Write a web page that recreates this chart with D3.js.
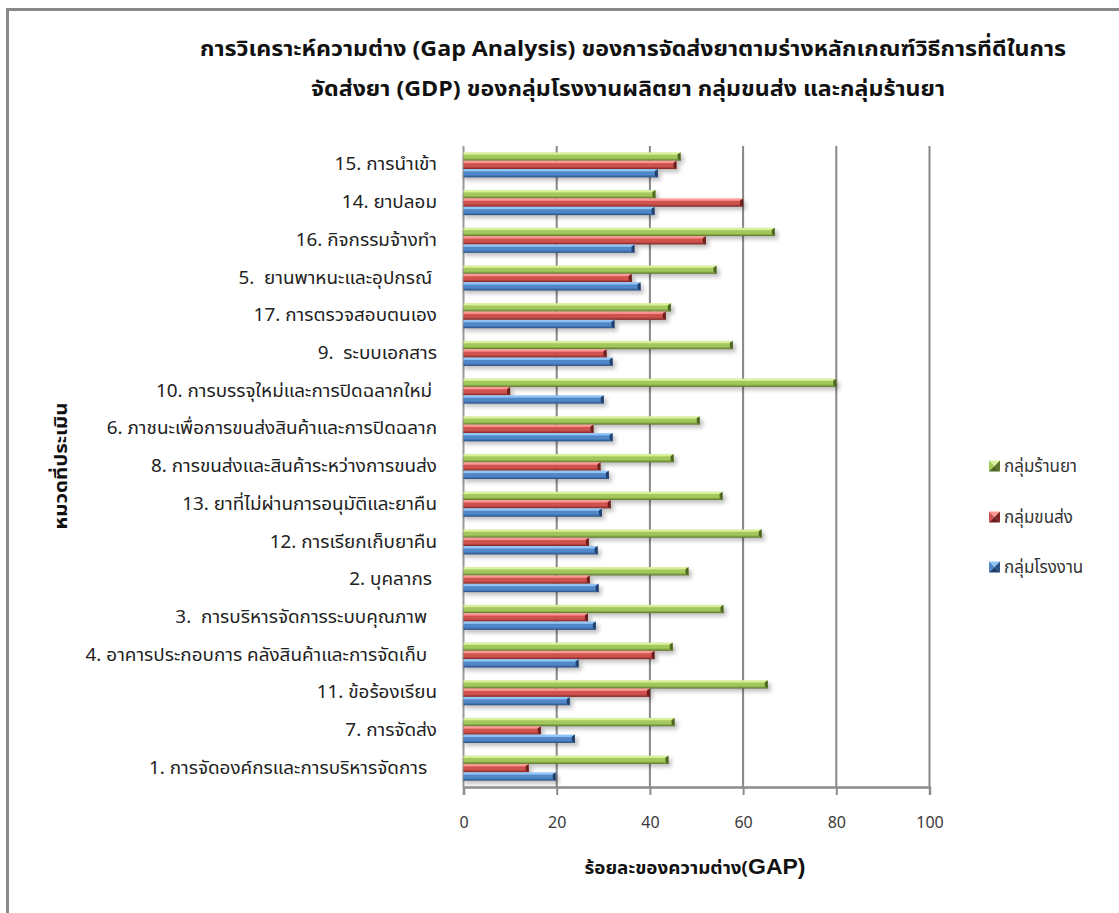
<!DOCTYPE html>
<html>
<head>
<meta charset="utf-8">
<script src="https://cdn.jsdelivr.net/npm/d3@7"></script>
<style>
  html, body { margin: 0; padding: 0; background: #fff; }
  svg { display: block; }
  text { white-space: pre; }
</style>
</head>
<body>
<svg id="chart" width="1119" height="913"></svg>
<script>
// Assessment categories, listed from top to bottom of the chart
const categories = [
  "15. การนำเข้า",
  "14. ยาปลอม",
  "16. กิจกรรมจ้างทำ",
  "5.  ยานพาหนะและอุปกรณ์ ",
  "17. การตรวจสอบตนเอง",
  "9.  ระบบเอกสาร",
  "10. การบรรจุใหม่และการปิดฉลากใหม่ ",
  "6. ภาชนะเพื่อการขนส่งสินค้าและการปิดฉลาก",
  "8. การขนส่งและสินค้าระหว่างการขนส่ง",
  "13. ยาที่ไม่ผ่านการอนุมัติและยาคืน",
  "12. การเรียกเก็บยาคืน",
  "2. บุคลากร ",
  "3.  การบริหารจัดการระบบคุณภาพ  ",
  "4. อาคารประกอบการ คลังสินค้าและการจัดเก็บ  ",
  "11. ข้อร้องเรียน",
  "7. การจัดส่ง",
  "1. การจัดองค์กรและการบริหารจัดการ  "
];

// Gap percentages per group
const pharmacyGap  = [46.6, 41.2, 66.8, 54.3, 44.5, 57.8, 80.0, 50.7, 45.1, 55.6, 64.0, 48.3, 55.8, 44.9, 65.3, 45.3, 44.0];
const transportGap = [45.7, 60.0, 52.0, 36.1, 43.4, 30.7, 10.0, 27.9, 29.4, 31.6, 26.9, 27.1, 26.7, 41.0, 40.0, 16.6, 14.0];
const factoryGap   = [41.7, 41.0, 36.7, 38.0, 32.4, 32.0, 30.1, 32.0, 31.2, 29.7, 28.8, 29.0, 28.4, 24.7, 22.8, 23.9, 19.8];

const seriesNames = ["กลุ่มร้านยา", "กลุ่มขนส่ง", "กลุ่มโรงงาน"];
const xTicks = [0, 20, 40, 60, 80, 100];

const titleLines = [
  "การวิเคราะห์ความต่าง (Gap Analysis) ของการจัดส่งยาตามร่างหลักเกณฑ์วิธีการที่ดีในการ",
  "จัดส่งยา (GDP) ของกลุ่มโรงงานผลิตยา กลุ่มขนส่ง และกลุ่มร้านยา"
];
const xTitleThai = "ร้อยละของความต่าง(";
const xTitleLatin = "GAP)";
const yTitle = "หมวดที่ประเมิน";

const series = [
  { name: seriesNames[0], values: pharmacyGap,  base: "#a2c75a", light: "#d9f09a", dark: "#5c752a", edge: "#4e6522" },
  { name: seriesNames[1], values: transportGap, base: "#cf524e", light: "#fb9893", dark: "#7e2523", edge: "#6a1e1c" },
  { name: seriesNames[2], values: factoryGap,   base: "#4f87c8", light: "#92c4f6", dark: "#2a4f82", edge: "#213f6b" }
];

const FONT = "'Noto Sans Thai', 'Noto Sans', 'DejaVu Sans', sans-serif";
const svg = d3.select("#chart");

// Outer chart frame (extends past right and bottom edges)
svg.append("rect")
  .attr("x", 7.5).attr("y", 9.5)
  .attr("width", 1140).attr("height", 940)
  .attr("fill", "#fff")
  .attr("stroke", "#8a8a8a").attr("stroke-width", 3);

// Defs: gradients and shadow
const defs = svg.append("defs");
series.forEach((s, i) => {
  const g = defs.append("linearGradient")
    .attr("id", "bar-grad-" + i)
    .attr("x1", 0).attr("y1", 0).attr("x2", 0).attr("y2", 1);
  g.append("stop").attr("offset", "0%").attr("stop-color", s.light);
  g.append("stop").attr("offset", "22%").attr("stop-color", s.light);
  g.append("stop").attr("offset", "35%").attr("stop-color", s.base);
  g.append("stop").attr("offset", "68%").attr("stop-color", s.base);
  g.append("stop").attr("offset", "100%").attr("stop-color", s.dark);
});
const blur = defs.append("filter").attr("id", "soft-shadow")
  .attr("x", "-10%").attr("y", "-50%").attr("width", "130%").attr("height", "250%");
blur.append("feGaussianBlur").attr("stdDeviation", 2.2);

// Scales
const x = d3.scaleLinear().domain([0, 100]).range([463.5, 929.5]);
const y = d3.scaleBand().domain(categories).range([146, 787])
  .paddingInner(0.335).paddingOuter(0.168);
const ySub = d3.scaleBand().domain(d3.range(series.length)).range([0, y.bandwidth()]);

// Gridlines
svg.append("g").selectAll("line")
  .data(xTicks.filter(t => t > 0))
  .join("line")
  .attr("x1", d => x(d)).attr("x2", d => x(d))
  .attr("y1", 146).attr("y2", 787)
  .attr("stroke", "#878787").attr("stroke-width", 2);

// Left axis line
svg.append("line")
  .attr("x1", x(0)).attr("x2", x(0))
  .attr("y1", 146).attr("y2", 787)
  .attr("stroke", "#9a9a9a").attr("stroke-width", 2);

// Bars
const bars = svg.append("g");
series.forEach((s, si) => {
  const g = bars.append("g");
  const rows = categories.map((c, ci) => ({ c, v: s.values[ci] }));
  const h = ySub.bandwidth();
  // soft shadow
  g.selectAll("rect.shadow").data(rows).join("rect")
    .attr("class", "shadow")
    .attr("x", x(0) + 1)
    .attr("y", d => y(d.c) + ySub(si) + 3)
    .attr("width", d => x(d.v) - x(0) + 2)
    .attr("height", h)
    .attr("fill", "#000").attr("opacity", 0.25)
    .attr("filter", "url(#soft-shadow)");
  // body
  g.selectAll("rect.body").data(rows).join("rect")
    .attr("class", "body")
    .attr("x", x(0))
    .attr("y", d => y(d.c) + ySub(si))
    .attr("width", d => x(d.v) - x(0))
    .attr("height", h)
    .attr("fill", `url(#bar-grad-${si})`);
  // bevelled end cap
  g.selectAll("path.cap").data(rows).join("path")
    .attr("class", "cap")
    .attr("d", d => {
      const x1 = x(d.v), y0 = y(d.c) + ySub(si);
      return `M${x1 - 3},${y0 + 2} L${x1},${y0} L${x1},${y0 + h} L${x1 - 3},${y0 + h - 2} Z`;
    })
    .attr("fill", s.edge);
});

// Bottom axis
const xAxis = d3.axisBottom(x).tickValues(xTicks).tickSize(8).tickPadding(22).tickFormat(d3.format("d"));
const axisG = svg.append("g").attr("transform", "translate(0,787)").call(xAxis);
axisG.select(".domain").attr("stroke", "#8c8c8c").attr("stroke-width", 2.5);
axisG.selectAll(".tick line").attr("stroke", "#8c8c8c").attr("stroke-width", 2);
axisG.selectAll(".tick text")
  .attr("fill", "#3a3a3a")
  .style("font-family", FONT).style("font-size", "16px");

// Category labels (slightly widened glyphs)
svg.append("g").selectAll("text")
  .data(categories)
  .join("text")
  .attr("transform", d => `translate(437,${y(d) + y.bandwidth() / 2}) scale(1.08,1)`)
  .attr("dy", "0.32em")
  .attr("text-anchor", "end")
  .attr("fill", "#222")
  .style("font-family", FONT).style("font-size", "17.5px")
  .text(d => d);

// Title
svg.append("g").selectAll("text")
  .data(titleLines)
  .join("text")
  .attr("x", (d, i) => i === 0 ? 633 : 628)
  .attr("y", (d, i) => i === 0 ? 56 : 96)
  .attr("text-anchor", "middle")
  .attr("textLength", (d, i) => i === 0 ? 866 : 634)
  .attr("lengthAdjust", "spacingAndGlyphs")
  .attr("fill", "#111")
  .style("font-family", FONT).style("font-size", "22px").style("font-weight", "bold")
  .text(d => d);

// X axis title
const xt = svg.append("text")
  .attr("x", 695).attr("y", 874)
  .attr("text-anchor", "middle")
  .attr("textLength", 221)
  .attr("lengthAdjust", "spacingAndGlyphs")
  .attr("fill", "#111")
  .style("font-family", FONT).style("font-weight", "bold");
xt.append("tspan").style("font-size", "18px").text(xTitleThai);
xt.append("tspan").style("font-size", "22px").style("font-family", "'Liberation Sans', Arial, sans-serif").text(xTitleLatin);

// Y axis title
svg.append("text")
  .attr("transform", "translate(67,466) rotate(-90)")
  .attr("text-anchor", "middle")
  .attr("textLength", 127)
  .attr("lengthAdjust", "spacingAndGlyphs")
  .attr("fill", "#111")
  .style("font-family", FONT).style("font-size", "18px").style("font-weight", "bold")
  .text(yTitle);

// Legend with pyramid-style swatches
const legendY = [466, 517, 567];
const legend = svg.append("g");
series.forEach((s, i) => {
  const lg = legend.append("g").attr("transform", `translate(989,${legendY[i] - 5.5})`);
  const w = 11, c = w / 2;
  const tri = [
    { p: `M0,0 L${w},0 L${c},${c} Z`, f: s.light },
    { p: `M0,0 L${c},${c} L0,${w} Z`, f: s.base },
    { p: `M${w},0 L${w},${w} L${c},${c} Z`, f: s.dark },
    { p: `M0,${w} L${c},${c} L${w},${w} Z`, f: s.edge }
  ];
  lg.selectAll("path").data(tri).join("path").attr("d", d => d.p).attr("fill", d => d.f);
  lg.append("text")
    .attr("x", 15).attr("y", c).attr("dy", "0.35em")
    .attr("fill", "#333")
    .style("font-family", FONT).style("font-size", "17px")
    .text(s.name);
});
</script>
</body>
</html>
